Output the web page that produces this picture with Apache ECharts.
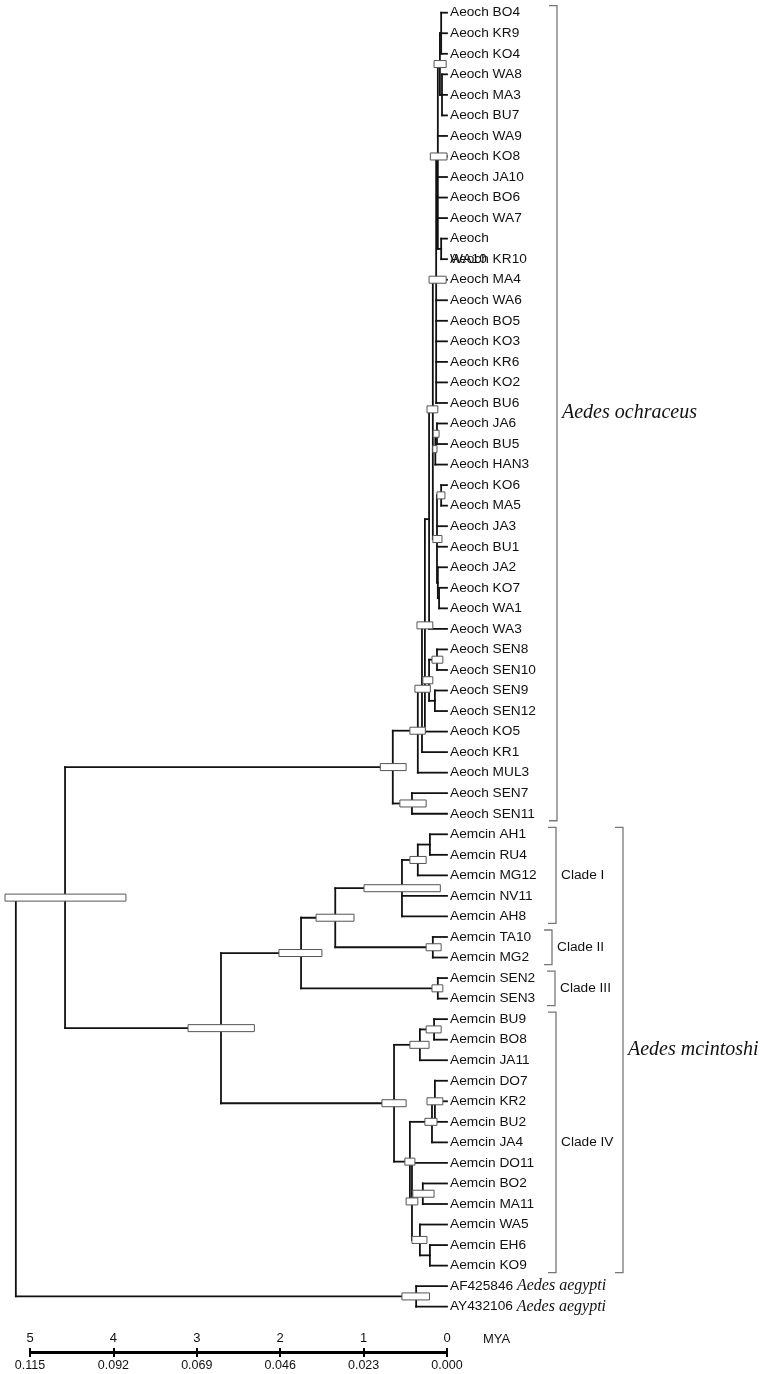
<!DOCTYPE html>
<html>
<head>
<meta charset="utf-8">
<script src="https://cdn.jsdelivr.net/npm/echarts@6.0.0/dist/echarts.min.js"></script>
<style>
html,body{margin:0;padding:0;background:#fff;}
#c{width:765px;height:1374px;}
</style>
</head>
<body>
<div id="c"></div>
<script>
// ---------------- DATA ----------------
const leafNames = ['Aeoch BO4','Aeoch KR9','Aeoch KO4','Aeoch WA8','Aeoch MA3','Aeoch BU7','Aeoch WA9','Aeoch KO8','Aeoch JA10','Aeoch BO6','Aeoch WA7','Aeoch WA10','Aeoch KR10','Aeoch MA4','Aeoch WA6','Aeoch BO5','Aeoch KO3','Aeoch KR6','Aeoch KO2','Aeoch BU6','Aeoch JA6','Aeoch BU5','Aeoch HAN3','Aeoch KO6','Aeoch MA5','Aeoch JA3','Aeoch BU1','Aeoch JA2','Aeoch KO7','Aeoch WA1','Aeoch WA3','Aeoch SEN8','Aeoch SEN10','Aeoch SEN9','Aeoch SEN12','Aeoch KO5','Aeoch KR1','Aeoch MUL3','Aeoch SEN7','Aeoch SEN11','Aemcin AH1','Aemcin RU4','Aemcin MG12','Aemcin NV11','Aemcin AH8','Aemcin TA10','Aemcin MG2','Aemcin SEN2','Aemcin SEN3','Aemcin BU9','Aemcin BO8','Aemcin JA11','Aemcin DO7','Aemcin KR2','Aemcin BU2','Aemcin JA4','Aemcin DO11','Aemcin BO2','Aemcin MA11','Aemcin WA5','Aemcin EH6','Aemcin KO9','AF425846 Aedes aegypti','AY432106 Aedes aegypti'];

const wrappedLabels = ['Aeoch WA10'];

const nodeIds = ['n1','n2','n3','n5','n4','n6','n8','n8b','n9','n12','n11','n10','n7','nE','nSa','nSb','nS','nC','nB','nA','nS711','nOch',
  'mAR','mARM','mCI','mCII','mCI_II','mCIII','mCI_III','mBB','mBBJ','mG1a','mG1','mBOMA','mEK','mWEK','mL2','mL1','mCIV','mMc','nIn','nAeg','root'];

const nodeChildren = [
  ['Aeoch BO4','Aeoch KR9','Aeoch KO4'],
  ['Aeoch WA8','Aeoch MA3','Aeoch BU7'],
  ['n1','n2'],
  ['Aeoch WA10','Aeoch KR10'],
  ['n3','Aeoch WA9','Aeoch KO8','Aeoch JA10','Aeoch BO6','Aeoch WA7','n5'],
  ['n4','Aeoch MA4','Aeoch WA6','Aeoch BO5','Aeoch KO3','Aeoch KR6','Aeoch KO2','Aeoch BU6'],
  ['Aeoch JA6','Aeoch BU5'],
  ['n8','Aeoch HAN3'],
  ['Aeoch KO6','Aeoch MA5'],
  ['Aeoch KO7','Aeoch WA1'],
  ['Aeoch JA2','n12'],
  ['n9','Aeoch JA3','Aeoch BU1','n11'],
  ['n6','n8b','n10'],
  ['n7','Aeoch WA3'],
  ['Aeoch SEN8','Aeoch SEN10'],
  ['Aeoch SEN9','Aeoch SEN12'],
  ['nSa','nSb'],
  ['nE','nS','Aeoch KO5'],
  ['nC','Aeoch KR1'],
  ['nB','Aeoch MUL3'],
  ['Aeoch SEN7','Aeoch SEN11'],
  ['nA','nS711'],
  ['Aemcin AH1','Aemcin RU4'],
  ['mAR','Aemcin MG12'],
  ['mARM','Aemcin NV11','Aemcin AH8'],
  ['Aemcin TA10','Aemcin MG2'],
  ['mCI','mCII'],
  ['Aemcin SEN2','Aemcin SEN3'],
  ['mCI_II','mCIII'],
  ['Aemcin BU9','Aemcin BO8'],
  ['mBB','Aemcin JA11'],
  ['Aemcin DO7','Aemcin KR2','Aemcin BU2'],
  ['mG1a','Aemcin JA4'],
  ['Aemcin BO2','Aemcin MA11'],
  ['Aemcin EH6','Aemcin KO9'],
  ['Aemcin WA5','mEK'],
  ['Aemcin DO11','mBOMA','mWEK'],
  ['mG1','mL2'],
  ['mBBJ','mL1'],
  ['mCI_III','mCIV'],
  ['nOch','mMc'],
  ['AF425846 Aedes aegypti','AY432106 Aedes aegypti'],
  ['nIn','nAeg']
];

// node ages (MYA)
const nodeAges = [0.07,0.06,0.085,0.07,0.11,0.13,0.12,0.14,0.07,0.095,0.11,0.12,0.17,0.215,0.12,0.145,0.215,0.265,0.30,0.35,0.42,0.65,
  0.205,0.35,0.54,0.17,1.34,0.11,1.75,0.155,0.325,0.145,0.18,0.29,0.205,0.325,0.42,0.445,0.635,2.71,4.58,0.37,5.17];
// 95% HPD bars (MYA), null = none drawn
const hpdLow  = [null,null,0.01,null,0.0,0.01,0.095,0.12,0.025,null,null,0.06,0.11,null,0.05,null,0.17,0.17,0.20,0.26,0.25,0.49,
  null,0.25,0.08,0.07,1.115,0.05,1.50,0.07,0.215,0.05,0.12,0.155,null,0.24,0.35,0.385,0.49,2.31,3.85,0.21,null];
const hpdHigh = [null,null,0.155,null,0.20,0.215,0.165,0.17,0.12,null,null,0.17,0.24,null,0.18,null,0.29,0.36,0.385,0.445,0.565,0.80,
  null,0.445,0.995,0.25,1.57,0.18,2.015,0.25,0.445,0.24,0.265,0.41,null,0.42,0.49,0.505,0.78,3.105,5.30,0.54,null];

// scale bar
const myaTicks = [0,1,2,3,4,5];
const rateLabels = ['0.000','0.023','0.046','0.069','0.092','0.115'];
const axisUnit = 'MYA';

// group brackets
const groupNames = ['Aedes ochraceus','Clade I','Clade II','Clade III','Clade IV','Aedes mcintoshi'];
const groupFirst = ['Aeoch BO4','Aemcin AH1','Aemcin TA10','Aemcin SEN2','Aemcin BU9','Aemcin AH1'];
const groupLast  = ['Aeoch SEN11','Aemcin AH8','Aemcin MG2','Aemcin SEN3','Aemcin KO9','Aemcin KO9'];

// ---------------- LAYOUT ----------------
const rowOf = {}; leafNames.forEach((n,i)=>{rowOf[n]=i;});
const nodeIndex = {}; nodeIds.forEach((id,i)=>{nodeIndex[id]=i;});
const memo = {};
function place(id){
  if (memo[id]) return memo[id];
  let r;
  if (id in rowOf) r = {age:0, y:rowOf[id]};
  else {
    const k = nodeIndex[id];
    const ch = nodeChildren[k].map(place);
    r = {age:nodeAges[k], y:(ch[0].y + ch[ch.length-1].y)/2, ch:ch};
  }
  memo[id] = r; return r;
}
const branchData = [], boxData = [];
nodeIds.forEach((id,k)=>{
  const p = place(id), ch = p.ch;
  branchData.push([p.age, ch[0].y, p.age, ch[ch.length-1].y]);
  ch.forEach(c=>branchData.push([p.age, c.y, c.age, c.y]));
  if (hpdLow[k] != null) boxData.push([hpdLow[k], hpdHigh[k], p.y]);
});
const labelData = leafNames.map((n,i)=>[0,i]);
const groupData = groupNames.map((n,i)=>[rowOf[groupFirst[i]], rowOf[groupLast[i]], i]);

const SANS = "'Liberation Sans', Arial, sans-serif";
const SERIF = "'Liberation Serif', 'Times New Roman', serif";
const AXISFONT = "'Liberation Sans', Arial, sans-serif";
const bracketX = [557,556,552,555,556,623];

const chart = echarts.init(document.getElementById('c'), null, {renderer:'canvas'});
chart.setOption({
  animation:false,
  backgroundColor:'#fff',
  grid:[
    {left:0, right:318, top:12.7, bottom:67.3},
    {left:30, right:318, top:1352, height:1}
  ],
  xAxis:[
    {gridIndex:0, type:'value', min:0, max:5.36, inverse:true, show:false},
    {gridIndex:1, type:'value', min:0, max:5, interval:1, inverse:true, position:'top',
      axisLine:{show:true, onZero:false, lineStyle:{color:'#000', width:2}},
      axisTick:{show:true, length:4, lineStyle:{color:'#000', width:2}},
      splitLine:{show:false},
      axisLabel:{margin:7, color:'#111', fontFamily:AXISFONT, fontSize:13, showMinLabel:true, showMaxLabel:true,
        formatter:v=>String(myaTicks[myaTicks.indexOf(Math.round(v))])}},
    {gridIndex:1, type:'value', min:0, max:5, interval:1, inverse:true, position:'bottom',
      axisLine:{show:true, onZero:false, lineStyle:{color:'#000', width:2}},
      axisTick:{show:true, length:4, lineStyle:{color:'#000', width:2}},
      splitLine:{show:false},
      axisLabel:{margin:6, color:'#111', fontFamily:AXISFONT, fontSize:12.5, showMinLabel:true, showMaxLabel:true,
        formatter:v=>rateLabels[myaTicks.indexOf(Math.round(v))]}}
  ],
  yAxis:[
    {gridIndex:0, type:'value', min:0, max:63, inverse:true, show:false},
    {gridIndex:1, type:'value', min:0, max:1, show:false}
  ],
  graphic:[
    {type:'text', left:483, top:1333, style:{text:axisUnit, fill:'#111', font:'13px ' + AXISFONT}}
  ],
  series:[
    {
      type:'custom', xAxisIndex:0, yAxisIndex:0, z:2,
      dimensions:['x1','y1','x2','y2'], encode:{x:[0,2], y:[1,3]},
      data:branchData,
      renderItem:(params, api)=>{
        const a = api.coord([api.value(0), api.value(1)]);
        const b = api.coord([api.value(2), api.value(3)]);
        return {type:'line', shape:{x1:a[0], y1:a[1], x2:b[0], y2:b[1]},
          style:{stroke:'#111', lineWidth:1.8, lineCap:'square'}};
      }
    },
    {
      type:'custom', xAxisIndex:0, yAxisIndex:0, z:3,
      dimensions:['lo','hi','y'], encode:{x:[0,1], y:2},
      data:boxData,
      renderItem:(params, api)=>{
        const a = api.coord([api.value(0), api.value(2)]);
        const b = api.coord([api.value(1), api.value(2)]);
        return {type:'rect', shape:{x:b[0], y:a[1]-3.5, width:a[0]-b[0], height:7},
          style:{fill:'#fff', stroke:'#555', lineWidth:1}};
      }
    },
    {
      type:'custom', xAxisIndex:0, yAxisIndex:0, z:4,
      dimensions:['x','row'], encode:{x:0, y:1},
      data:labelData,
      renderItem:(params, api)=>{
        const p = api.coord([api.value(0), api.value(1)]);
        const name = leafNames[params.dataIndex];
        const m = name.match(/^(\S+) (Aedes .+)$/);
        if (m) {
          return {type:'text', x:p[0]+3, y:p[1],
            style:{text:'{a|' + m[1] + ' }{b|' + m[2] + '}', align:'left', verticalAlign:'middle',
              rich:{a:{fontFamily:SANS, fontSize:13.7, fill:'#111', color:'#111'},
                    b:{fontFamily:SERIF, fontStyle:'italic', fontSize:16, fill:'#111', color:'#111'}}}};
        }
        if (wrappedLabels.indexOf(name) >= 0) {
          return {type:'text', x:p[0]+3, y:p[1]-10.3,
            style:{text:name.replace(' ', '\n'), align:'left', verticalAlign:'top', lineHeight:20.6,
              fill:'#111', fontFamily:SANS, fontSize:13.7}};
        }
        return {type:'text', x:p[0]+3, y:p[1],
          style:{text:name, align:'left', verticalAlign:'middle', fill:'#111', fontFamily:SANS, fontSize:13.7}};
      }
    },
    {
      type:'custom', xAxisIndex:0, yAxisIndex:0, z:4,
      dimensions:['first','last','idx'], encode:{y:[0,1]},
      data:groupData,
      renderItem:(params, api)=>{
        const i = params.dataIndex;
        const y1 = api.coord([0, api.value(0)])[1] - 7;
        const y2 = api.coord([0, api.value(1)])[1] + 7;
        const x = bracketX[i];
        const italic = groupNames[i].indexOf('Aedes') === 0;
        return {type:'group', children:[
          {type:'polyline', shape:{points:[[x-8,y1],[x,y1],[x,y2],[x-8,y2]]},
            style:{stroke:'#777', lineWidth:1.3, fill:null}},
          {type:'text', x:x+5, y:(y1+y2)/2,
            style:{text:groupNames[i], align:'left', verticalAlign:'middle', fill:'#111',
              fontFamily: italic ? SERIF : SANS, fontStyle: italic ? 'italic' : 'normal',
              fontSize: italic ? 20 : 13.7}}
        ]};
      }
    }
  ]
});
</script>
</body>
</html>
